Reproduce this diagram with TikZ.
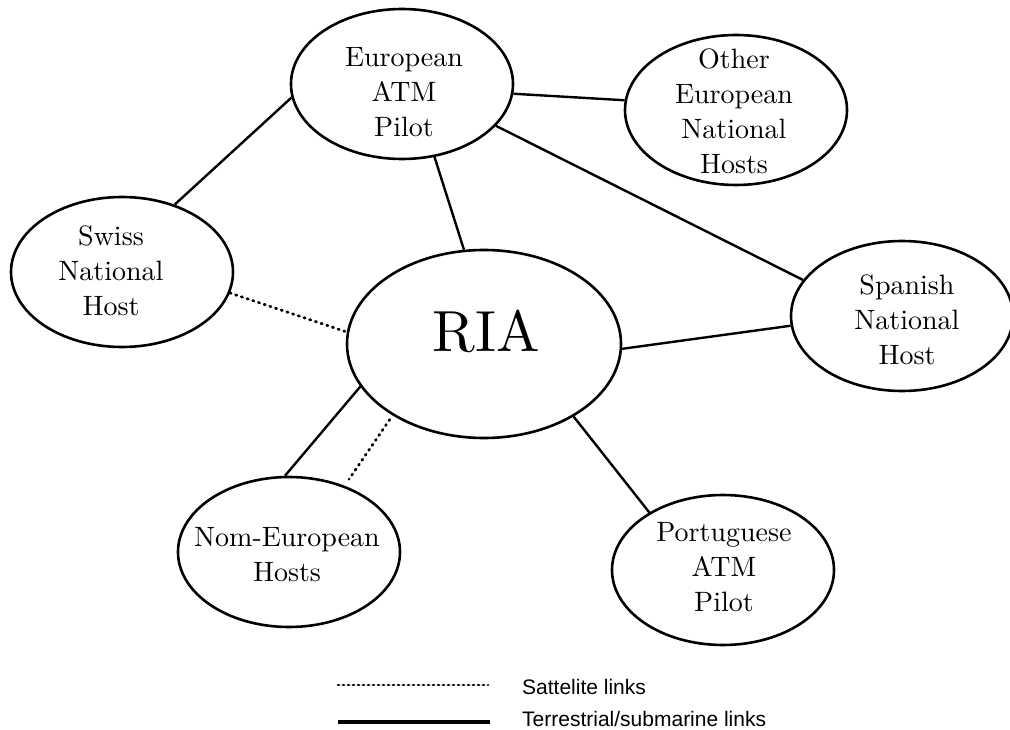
\documentclass[tikz,border=0pt]{standalone}
\usepackage{fontspec}
\newfontfamily\legendfont{Liberation Sans}
\newfontfamily\sitefont{lmroman10-regular.otf}
\usetikzlibrary{shapes.geometric}

\begin{document}
\begin{tikzpicture}[x=1pt,y=-1pt,
  host/.style={ellipse, draw, line width=2.6pt, minimum width=222pt, minimum height=150pt, inner sep=0pt},
  hub/.style={ellipse, draw, line width=2.6pt, minimum width=274pt, minimum height=188pt, inner sep=0pt},
  hosttext/.style={align=center, inner sep=0pt, font=\sitefont\fontsize{28}{35}\selectfont},
  hubtext/.style={inner sep=0pt, font=\sitefont\fontsize{58}{62}\selectfont},
  land/.style={line width=2.4pt},
  sat/.style={line width=2.8pt, line cap=round, dash pattern=on 1.2pt off 4.8pt},
  legtext/.style={anchor=west, inner sep=0pt, font=\legendfont\fontsize{21}{25}\selectfont}]

\useasboundingbox (0,0) rectangle (1010,730);

% network sites
\node[host] (eu)    at (402,84)  {};
\node[host] (other) at (736,110) {};
\node[host] (swiss) at (122,272) {};
\node[hub]  (ria)   at (484,344) {};
\node[host] (spain) at (902,316) {};
\node[host] (nom)   at (289,552) {};
\node[host] (port)  at (723,570) {};

% site names
\node[hosttext] (eu-t)    at (404,92)  {European\\ATM\\Pilot};
\node[hosttext] (other-t) at (734,111) {Other\\European\\National\\Hosts};
\node[hosttext] (swiss-t) at (111,271) {Swiss\\National\\Host};
\node[hubtext]  (ria-t)   at (486,331) {RIA};
\node[hosttext] (spain-t) at (907,320) {Spanish\\National\\Host};
\node[hosttext] (nom-t)   at (287,555) {Nom-European\\Hosts};
\node[hosttext] (port-t)  at (724,567) {Portuguese\\ATM\\Pilot};

% terrestrial / submarine links
\draw[land] (swiss.52.9) -- (eu.187);
\draw[land] (eu.355.3) -- (other.175);
\draw[land] (eu.336.7) -- (spain.160.7);
\draw[land] (eu.294) -- (ria.102.6);
\draw[land] (ria.358.8) -- (spain.185.7);
\draw[land] (ria.199) -- (nom.93);
\draw[land] (ria.321.3) -- (port.142.8);

% satellite links
\draw[sat] (swiss.349.2) -- (ria.175);
\draw[sat, shorten <=5pt, shorten >=8pt] (ria.218) -- (nom.50.7);

% legend
\coordinate (sat-a)  at (338,685);
\coordinate (sat-b)  at (488,685);
\coordinate (land-a) at (338,722);
\coordinate (land-b) at (490,722);
\draw[sat, dash pattern=on 1pt off 4pt] (sat-a) -- (sat-b);
\draw[land, line width=3.2pt] (land-a) -- (land-b);
\node[legtext] (sat-l)  at (522,687) {Sattelite links};
\node[legtext] (land-l) at (522,719) {Terrestrial/submarine links};
\end{tikzpicture}
\end{document}
